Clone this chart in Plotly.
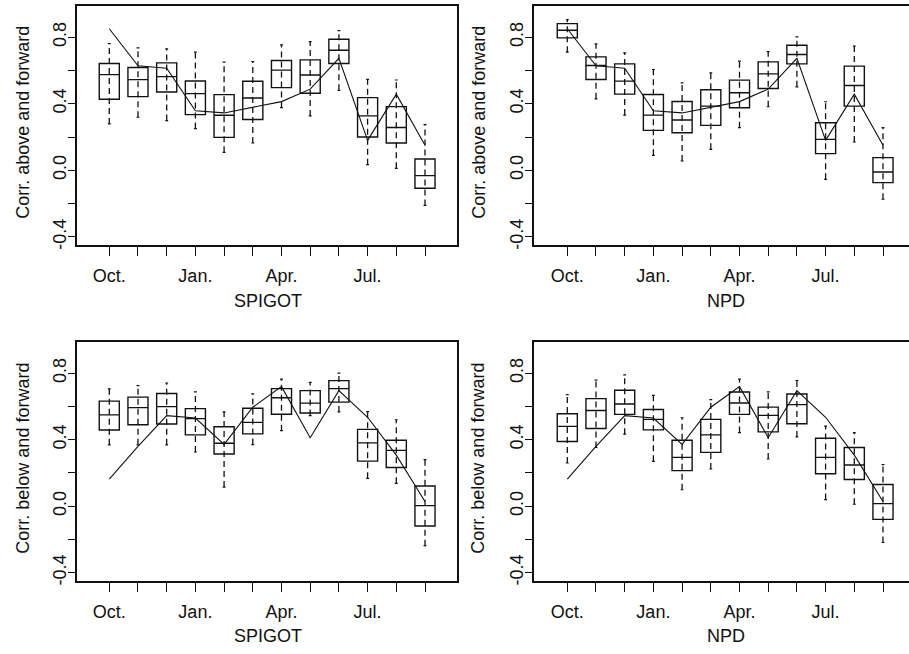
import plotly.graph_objects as go

W, H = 909, 654

months = ["Oct", "Nov", "Dec", "Jan", "Feb", "Mar", "Apr", "May", "Jun", "Jul", "Aug", "Sep"]
xtick_text = ["Oct.", "", "", "Jan.", "", "", "Apr.", "", "", "Jul.", "", ""]
ytick_vals = [-0.4, -0.2, 0.0, 0.2, 0.4, 0.6, 0.8]
ytick_text = ["-0.4", "", "0.0", "", "0.4", "", "0.8"]

# observed correlation lines
obs_above = [0.851, 0.628, 0.614, 0.358, 0.345, 0.380, 0.413, 0.488, 0.673, 0.180, 0.458, 0.151]
obs_below = [0.163, 0.360, 0.545, 0.530, 0.372, 0.595, 0.719, 0.412, 0.695, 0.535, 0.307, 0.028]

# SPIGOT, above and forward
sp_ab_lo = [0.279, 0.319, 0.299, 0.251, 0.108, 0.164, 0.377, 0.327, 0.481, 0.034, 0.012, -0.211]
sp_ab_q1 = [0.427, 0.443, 0.471, 0.335, 0.198, 0.305, 0.497, 0.463, 0.642, 0.200, 0.164, -0.108]
sp_ab_md = [0.575, 0.545, 0.563, 0.461, 0.331, 0.435, 0.602, 0.573, 0.722, 0.327, 0.257, -0.032]
sp_ab_q3 = [0.642, 0.618, 0.646, 0.537, 0.455, 0.535, 0.660, 0.664, 0.788, 0.437, 0.383, 0.068]
sp_ab_hi = [0.762, 0.736, 0.730, 0.710, 0.650, 0.654, 0.754, 0.774, 0.840, 0.547, 0.543, 0.275]

# NPD, above and forward
np_ab_lo = [0.710, 0.430, 0.332, 0.090, 0.056, 0.126, 0.256, 0.382, 0.502, -0.054, 0.170, -0.174]
np_ab_q1 = [0.796, 0.546, 0.458, 0.240, 0.226, 0.270, 0.376, 0.492, 0.640, 0.100, 0.386, -0.074]
np_ab_md = [0.842, 0.630, 0.536, 0.332, 0.302, 0.386, 0.466, 0.580, 0.696, 0.186, 0.510, -0.010]
np_ab_q3 = [0.882, 0.682, 0.640, 0.456, 0.414, 0.484, 0.542, 0.652, 0.752, 0.286, 0.626, 0.076]
np_ab_hi = [0.906, 0.760, 0.706, 0.606, 0.526, 0.586, 0.656, 0.714, 0.802, 0.412, 0.746, 0.256]

# SPIGOT, below and forward
sp_be_lo = [0.369, 0.369, 0.369, 0.326, 0.115, 0.371, 0.454, 0.545, 0.567, 0.168, 0.138, -0.237]
sp_be_q1 = [0.458, 0.490, 0.494, 0.429, 0.314, 0.435, 0.553, 0.561, 0.626, 0.271, 0.233, -0.119]
sp_be_md = [0.549, 0.593, 0.599, 0.527, 0.379, 0.504, 0.652, 0.620, 0.707, 0.381, 0.336, 0.004]
sp_be_q3 = [0.632, 0.656, 0.678, 0.587, 0.478, 0.589, 0.707, 0.695, 0.755, 0.462, 0.397, 0.122]
sp_be_hi = [0.705, 0.725, 0.741, 0.687, 0.567, 0.676, 0.764, 0.745, 0.800, 0.569, 0.520, 0.280]

# NPD, below and forward
np_be_lo = [0.260, 0.353, 0.433, 0.270, 0.099, 0.224, 0.443, 0.284, 0.417, 0.040, 0.012, -0.218]
np_be_q1 = [0.389, 0.467, 0.552, 0.459, 0.214, 0.324, 0.552, 0.447, 0.496, 0.195, 0.161, -0.079]
np_be_md = [0.480, 0.576, 0.615, 0.522, 0.294, 0.429, 0.621, 0.546, 0.611, 0.294, 0.248, 0.016]
np_be_q3 = [0.556, 0.647, 0.697, 0.582, 0.397, 0.522, 0.687, 0.596, 0.675, 0.409, 0.353, 0.131]
np_be_hi = [0.671, 0.758, 0.790, 0.667, 0.532, 0.641, 0.764, 0.687, 0.756, 0.482, 0.443, 0.250]

xpos = list(range(1, len(months) + 1))

panels = [
    dict(lo=sp_ab_lo, q1=sp_ab_q1, md=sp_ab_md, q3=sp_ab_q3, hi=sp_ab_hi, obs=obs_above,
         ytitle="Corr. above and forward", xtitle="SPIGOT",
         px=(77, 457), py=(6, 247), xr=(-0.125, 13.115), right=True, ytx=23, xtx=268, xty=303),
    dict(lo=np_ab_lo, q1=np_ab_q1, md=np_ab_md, q3=np_ab_q3, hi=np_ab_hi, obs=obs_above,
         ytitle="Corr. above and forward", xtitle="NPD",
         px=(534, 909), py=(6, 247), xr=(-0.16, 12.906), right=False, ytx=479, xtx=726, xty=303),
    dict(lo=sp_be_lo, q1=sp_be_q1, md=sp_be_md, q3=sp_be_q3, hi=sp_be_hi, obs=obs_below,
         ytitle="Corr. below and forward", xtitle="SPIGOT",
         px=(77, 457), py=(344, 585), xr=(-0.125, 13.115), right=True, ytx=23, xtx=268, xty=640),
    dict(lo=np_be_lo, q1=np_be_q1, md=np_be_md, q3=np_be_q3, hi=np_be_hi, obs=obs_below,
         ytitle="Corr. below and forward", xtitle="NPD",
         px=(534, 909), py=(344, 585), xr=(-0.16, 12.906), right=False, ytx=478, xtx=726, xty=640),
]

FONT = "Liberation Sans, Arial, Helvetica, sans-serif"
INK = "#111111"
fig = go.Figure()
layout = {}
annotations = []

for k, p in enumerate(panels, start=1):
    xa = "x" if k == 1 else f"x{k}"
    ya = "y" if k == 1 else f"y{k}"
    # whiskers (dashed, running through the box)
    wx, wy = [], []
    for i, lo, hi in zip(xpos, p["lo"], p["hi"]):
        wx += [i, i, None]
        wy += [lo, hi, None]
    fig.add_trace(go.Scatter(x=wx, y=wy, mode="lines", xaxis=xa, yaxis=ya,
                             line=dict(color=INK, width=1.3, dash="6px,4px"),
                             showlegend=False, hoverinfo="skip"))
    # whisker caps
    cx, cy = [], []
    for i, lo, hi in zip(xpos, p["lo"], p["hi"]):
        cx += [i - 0.05, i + 0.05, None, i - 0.05, i + 0.05, None]
        cy += [lo, lo, None, hi, hi, None]
    fig.add_trace(go.Scatter(x=cx, y=cy, mode="lines", xaxis=xa, yaxis=ya,
                             line=dict(color=INK, width=1.2),
                             showlegend=False, hoverinfo="skip"))
    # boxes
    fig.add_trace(go.Box(x=xpos, q1=p["q1"], median=p["md"], q3=p["q3"],
                         lowerfence=p["q1"], upperfence=p["q3"],
                         width=0.7, whiskerwidth=0, xaxis=xa, yaxis=ya,
                         line=dict(color=INK, width=1.4),
                         fillcolor="rgba(0,0,0,0)", showlegend=False,
                         hoverinfo="skip", name=p["xtitle"]))
    # observed line
    fig.add_trace(go.Scatter(x=xpos, y=p["obs"], mode="lines", xaxis=xa, yaxis=ya,
                             line=dict(color=INK, width=1.1),
                             showlegend=False, hoverinfo="skip"))

    xkey = "xaxis" if k == 1 else f"xaxis{k}"
    ykey = "yaxis" if k == 1 else f"yaxis{k}"
    x0, x1 = p["px"]
    y0, y1 = p["py"]
    layout[xkey] = dict(domain=[x0 / W, min(x1 / W, 1.0)], anchor=ya, range=list(p["xr"]),
                        tickmode="array", tickvals=xpos, ticktext=xtick_text,
                        ticks="outside", ticklen=9, tickwidth=1.2, tickcolor=INK,
                        ticklabelstandoff=4,
                        showline=True, linecolor=INK, linewidth=1.5, mirror=True,
                        showgrid=False, zeroline=False,
                        tickfont=dict(family=FONT, size=18, color=INK))
    layout[ykey] = dict(domain=[1 - y1 / H, 1 - y0 / H], anchor=xa, range=[-0.452, 0.988],
                        tickmode="array", tickvals=ytick_vals, ticktext=ytick_text,
                        ticks="outside", ticklen=7, tickwidth=1.2, tickcolor=INK,
                        tickangle=-90, ticklabelstandoff=-5,
                        showline=True, linecolor=INK, linewidth=1.5,
                        mirror=True if p["right"] else False,
                        showgrid=False, zeroline=False,
                        tickfont=dict(family=FONT, size=18, color=INK))
    annotations.append(dict(text=p["ytitle"], xref="paper", yref="paper",
                            x=p["ytx"] / W, y=1 - ((y0 + y1) / 2 - 3) / H,
                            textangle=-90, showarrow=False, xanchor="center", yanchor="middle",
                            font=dict(family=FONT, size=18, color=INK)))
    annotations.append(dict(text=p["xtitle"], xref="paper", yref="paper",
                            x=p["xtx"] / W, y=1 - p["xty"] / H,
                            showarrow=False, xanchor="center", yanchor="middle",
                            font=dict(family=FONT, size=18, color=INK)))

fig.update_layout(width=W, height=H, autosize=False,
                  margin=dict(l=0, r=0, t=0, b=0),
                  paper_bgcolor="white", plot_bgcolor="white",
                  annotations=annotations, showlegend=False, **layout)

fig.write_html("out.html", config={"displayModeBar": False})
